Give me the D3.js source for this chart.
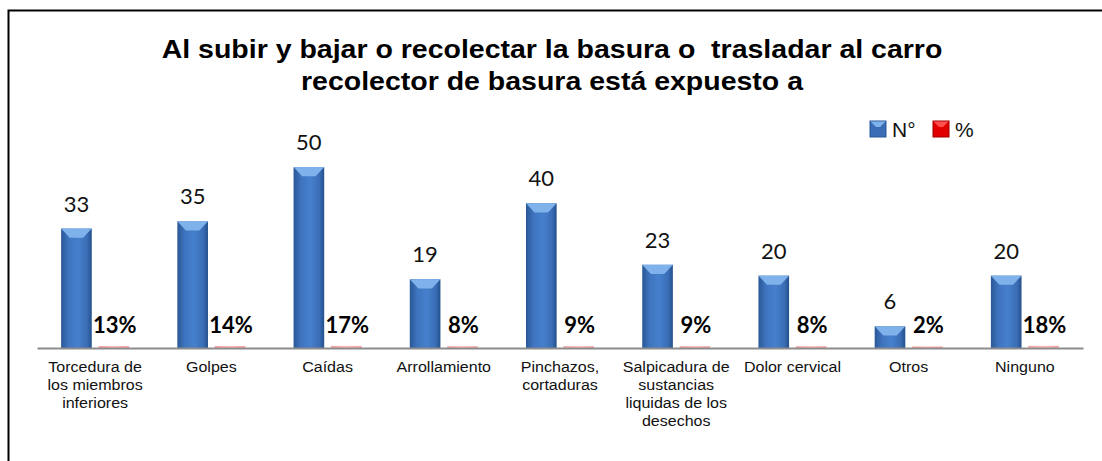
<!DOCTYPE html>
<html>
<head>
<meta charset="utf-8">
<script src="https://cdn.jsdelivr.net/npm/d3@7"></script>
<style>
  body { margin: 0; background: #fff; }
  svg { display: block; }
</style>
</head>
<body>
<div id="chart"></div>
<script>
const categories = [
  'Torcedura de\nlos miembros\ninferiores',
  'Golpes',
  'Caídas',
  'Arrollamiento',
  'Pinchazos,\ncortaduras',
  'Salpicadura de\nsustancias\nliquidas de los\ndesechos',
  'Dolor cervical',
  'Otros',
  'Ninguno'
]
const counts = [33, 35, 50, 19, 40, 23, 20, 6, 20]
const percents = [13, 14, 17, 8, 9, 9, 8, 2, 18]
const seriesNames = ['N°', '%']
const titleLines = [
  'Al subir y bajar o recolectar la basura o  trasladar al carro',
  'recolector de basura está expuesto a'
]

const W = 1102
const H = 461
const margin = { top: 149, left: 37, right: 19, bottom: 113 }

const svg = d3
  .select('#chart')
  .append('svg')
  .attr('width', W)
  .attr('height', H)

const defs = svg.append('defs')

const blueGrad = defs.append('linearGradient').attr('id', 'blue')
blueGrad.append('stop').attr('offset', '0%').attr('stop-color', '#2a5897')
blueGrad.append('stop').attr('offset', '25%').attr('stop-color', '#3f74bf')
blueGrad.append('stop').attr('offset', '55%').attr('stop-color', '#4680cc')
blueGrad.append('stop').attr('offset', '85%').attr('stop-color', '#3a6db5')
blueGrad.append('stop').attr('offset', '100%').attr('stop-color', '#24508c')

const redGrad = defs.append('linearGradient').attr('id', 'red')
redGrad.append('stop').attr('offset', '0%').attr('stop-color', '#f6a0a0')
redGrad.append('stop').attr('offset', '50%').attr('stop-color', '#ffb8b8')
redGrad.append('stop').attr('offset', '100%').attr('stop-color', '#f6a0a0')

// chart frame (right and bottom edges fall outside the picture)
svg
  .append('path')
  .attr('d', `M8.5,${H + 5} V10.5 H${W + 5}`)
  .attr('fill', 'none')
  .attr('stroke', '#000')
  .attr('stroke-width', 2)

// title, slightly stretched sideways like the original
svg
  .selectAll('.title')
  .data(titleLines)
  .enter()
  .append('text')
  .attr('class', 'title')
  .attr('transform', (d, i) => `translate(552,${58 + i * 32}) scale(1.14,1)`)
  .attr('text-anchor', 'middle')
  .attr('font-family', 'Liberation Sans, Arial, sans-serif')
  .attr('font-weight', 'bold')
  .attr('font-size', 25)
  .attr('xml:space', 'preserve')
  .text(d => d)

const x = d3
  .scaleBand()
  .domain(categories)
  .range([margin.left, W - margin.right])

const xInner = d3
  .scaleBand()
  .domain(seriesNames)
  .range([x.bandwidth() / 2 - 34, x.bandwidth() / 2 + 34])
  .paddingInner(0.18)

const y = d3
  .scaleLinear()
  .domain([0, 55])
  .range([H - margin.bottom, margin.top])

const data = categories.map((c, i) => ({
  cat: c,
  count: counts[i],
  pct: percents[i]
}))

const groups = svg
  .selectAll('.group')
  .data(data)
  .enter()
  .append('g')
  .attr('class', 'group')
  .attr('transform', d => `translate(${x(d.cat)},0)`)

const bw = xInner.bandwidth()

// blue bars with a bevelled top
groups
  .append('rect')
  .attr('x', xInner('N°'))
  .attr('y', d => y(d.count))
  .attr('width', bw)
  .attr('height', d => y(0) - y(d.count))
  .attr('fill', 'url(#blue)')

groups
  .append('path')
  .attr('d', d => {
    const x0 = xInner('N°')
    const y0 = y(d.count)
    const bev = Math.min(bw * 0.3, (y(0) - y0) * 0.6)
    return `M${x0},${y0} H${x0 + bw} L${x0 + bw * 0.72},${y0 + bev} H${x0 + bw * 0.28} Z`
  })
  .attr('fill', '#7fb2ea')

// red bars (percent values on the same axis, so almost flat)
groups
  .append('rect')
  .attr('x', xInner('%'))
  .attr('y', d => y(d.pct / 100) - 1.5)
  .attr('width', bw)
  .attr('height', d => Math.max(2, y(0) - y(d.pct / 100)))
  .attr('fill', 'url(#red)')

groups
  .append('text')
  .attr('x', xInner('N°') + bw / 2)
  .attr('y', d => y(d.count) - 17)
  .attr('text-anchor', 'middle')
  .attr('font-family', 'Lato, Carlito, sans-serif')
  .attr('font-size', 22)
  .attr('fill', '#111')
  .text(d => d.count)

groups
  .append('text')
  .attr('x', xInner('%') + bw / 2 + 1)
  .attr('y', y(0) - 15)
  .attr('text-anchor', 'middle')
  .attr('font-family', 'Lato, Carlito, sans-serif')
  .attr('font-weight', 'bold')
  .attr('font-size', 22)
  .attr('fill', '#000')
  .text(d => d.pct + '%')

// x axis
const xAxis = d3.axisBottom(x).tickSize(0).tickFormat('')
svg
  .append('g')
  .attr('class', 'x-axis')
  .attr('transform', `translate(0,${y(0)})`)
  .call(xAxis)
  .select('.domain')
  .attr('stroke', '#8c8c8c')
  .attr('stroke-width', 2)

// category labels, one text per line
const labelLines = []
categories.forEach(c => {
  c.split('\n').forEach((t, i) => labelLines.push({ cat: c, t, i }))
})

svg
  .append('g')
  .selectAll('text')
  .data(labelLines)
  .enter()
  .append('text')
  .attr('transform', d => `translate(${x(d.cat) + x.bandwidth() / 2},${y(0) + 24 + d.i * 18}) scale(1.07,1)`)
  .attr('text-anchor', 'middle')
  .attr('font-family', 'Liberation Sans, Arial, sans-serif')
  .attr('font-size', 15)
  .attr('fill', '#111')
  .text(d => d.t)

// legend
const legend = svg
  .append('g')
  .attr('transform', 'translate(870,121)')

const legendItems = legend
  .selectAll('g')
  .data(seriesNames)
  .enter()
  .append('g')
  .attr('transform', (d, i) => `translate(${i * 63},0)`)

legendItems
  .append('rect')
  .attr('width', 16)
  .attr('height', 16)
  .attr('fill', (d, i) => (i === 0 ? '#3a6db5' : '#e00000'))
  .attr('stroke', (d, i) => (i === 0 ? '#2a5897' : '#a00000'))
  .attr('stroke-width', 1)

legendItems
  .append('path')
  .attr('d', 'M0.5,0.5 H15.5 L10,6 H6 Z')
  .attr('fill', (d, i) => (i === 0 ? '#7fb2ea' : '#ff5050'))

legendItems
  .append('text')
  .attr('x', 22)
  .attr('y', 16)
  .attr('font-family', 'Liberation Sans, Arial, sans-serif')
  .attr('font-size', 21)
  .attr('fill', '#111')
  .text(d => d)
</script>
</body>
</html>
